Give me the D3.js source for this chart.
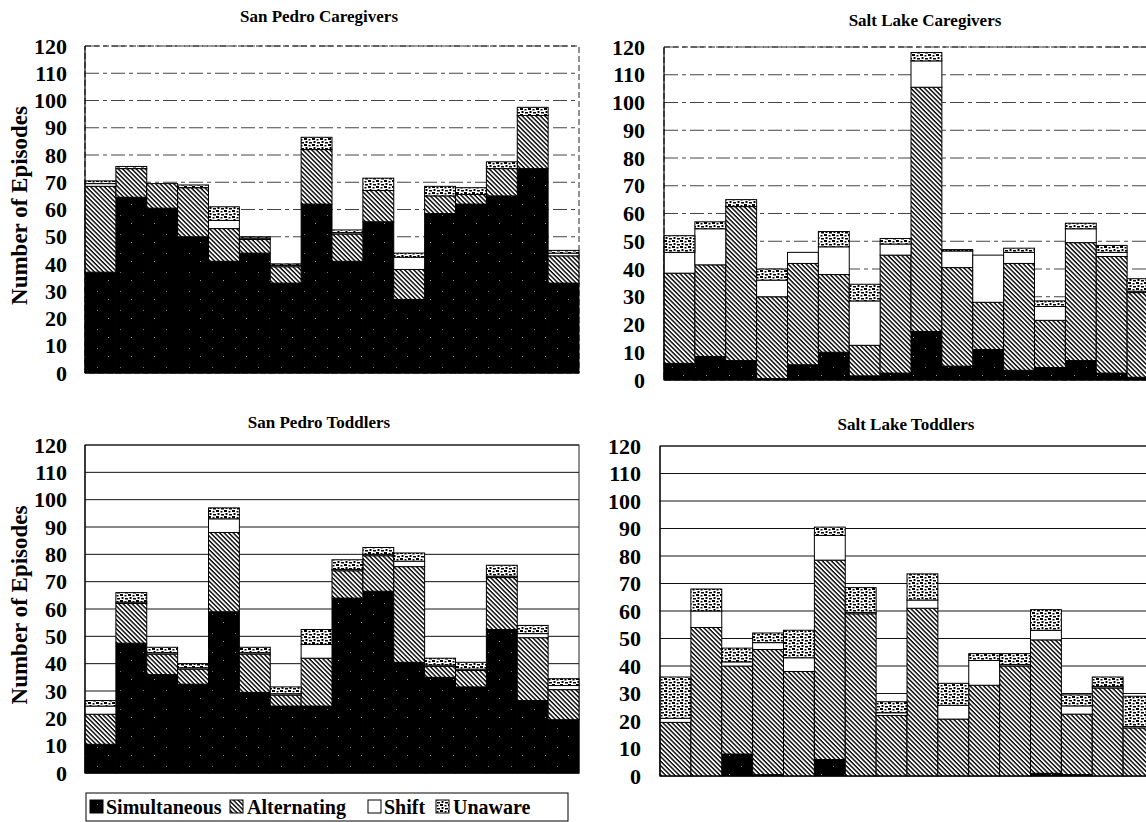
<!DOCTYPE html>
<html>
<head>
<meta charset="utf-8">
<script src="https://cdn.jsdelivr.net/npm/d3@7"></script>
<style>
  html, body { margin: 0; padding: 0; background: #fff; }
  svg { display: block; }
  text { font-family: "Liberation Serif", "Times New Roman", Times, serif; font-weight: bold; fill: #000; }
</style>
</head>
<body>
<div id="chart"></div>
<script>
// participants (16 dyads per group), same for every panel
const participants = ['P1', 'P2', 'P3', 'P4', 'P5', 'P6', 'P7', 'P8',
  'P9', 'P10', 'P11', 'P12', 'P13', 'P14', 'P15', 'P16'];
const yTicks = [0, 10, 20, 30, 40, 50, 60, 70, 80, 90, 100, 110, 120];
const keys = ['simultaneous', 'alternating', 'shift', 'unaware'];
const legendLabels = ['Simultaneous', 'Alternating', 'Shift', 'Unaware'];

// San Pedro Caregivers
const spCareSim = [37, 64.5, 60.5, 50, 41, 44, 33, 62, 41, 55.5, 27, 58.5, 62, 65, 75, 33];
const spCareAlt = [31.5, 10.5, 9, 18, 12, 5, 6, 20, 10, 11.5, 11, 6.5, 3.5, 10, 19.5, 10];
const spCareShift = [1, 0, 0, 0, 3, 0.5, 0.5, 0, 0.5, 0, 4.5, 0, 0, 0, 0, 1];
const spCareUna = [1, 0.8, 0, 1, 5, 0.5, 0.5, 4.5, 1, 4.5, 1.5, 3.5, 2.5, 2.5, 3, 1];

// Salt Lake Caregivers
const slCareSim = [6, 8.5, 7, 0.5, 5.5, 10, 1.5, 2.5, 17.5, 5, 11, 3.5, 4.5, 7, 2.5, 1];
const slCareAlt = [32.5, 33, 55.5, 29.5, 36.5, 28, 11, 42.5, 88, 35.5, 17, 38.5, 17, 42.5, 42, 30.5];
const slCareShift = [7.5, 13, 0, 6, 4, 10, 16, 4, 9.5, 6, 17, 4, 5, 5, 1.5, 0.5];
const slCareUna = [6, 2.5, 2.5, 4, 0, 5.5, 6, 2, 3, 0.5, 0, 1.5, 2, 2, 2.5, 4.5];

// San Pedro Toddlers
const spTodSim = [10.5, 47.5, 36, 32.5, 59, 29.5, 24.5, 24.5, 64, 66.5, 40.5, 35, 31.5, 52.5, 26.5, 19.5];
const spTodAlt = [11, 14.5, 7.5, 5.5, 29, 14, 4, 17.5, 10, 13, 35, 4, 6, 19, 23, 11];
const spTodShift = [3, 0.5, 0.5, 0.5, 5, 0.5, 0.5, 5, 0.5, 0.5, 2, 0.5, 0.5, 0.5, 1.5, 1.5];
const spTodUna = [2, 3.5, 2, 1.5, 4, 2, 2.5, 5.5, 3.5, 2.5, 3, 2.5, 2.5, 4, 3, 2.5];

// Salt Lake Toddlers
const slTodSim = [0, 0, 8, 0.5, 0, 6, 0, 0, 0, 0, 0, 0, 1, 0.5, 0, 0];
const slTodAlt = [19.5, 54, 32, 45.5, 38, 72.5, 59, 22, 61, 20.7, 33, 40, 48.5, 22, 32, 17.5];
const slTodShift = [1.5, 6, 1.5, 2.5, 5, 9, 0.5, 1, 3, 5, 9, 0.5, 3.5, 3, 0.5, 0.5];
const slTodUna = [15, 8, 5, 3.5, 10, 3, 9, 4, 9.5, 8, 2.5, 4, 7.5, 4, 3.5, 11];

const width = 1146, height = 822;
const serif = '"Liberation Serif", "Times New Roman", Times, serif';

const svg = d3.select('#chart').append('svg')
  .attr('width', width)
  .attr('height', height);

// fills: solid black, backslash hatch, white, dotted blobs
const defs = svg.append('defs');

const simPat = defs.append('pattern')
  .attr('id', 'pat-sim').attr('patternUnits', 'userSpaceOnUse')
  .attr('width', 23).attr('height', 19);
simPat.append('rect').attr('width', 23).attr('height', 19).attr('fill', '#000');
simPat.append('rect').attr('x', 5).attr('y', 6).attr('width', 1).attr('height', 1).attr('fill', '#777');
simPat.append('rect').attr('x', 16).attr('y', 14).attr('width', 1).attr('height', 1).attr('fill', '#999');

const altPat = defs.append('pattern')
  .attr('id', 'pat-alt').attr('patternUnits', 'userSpaceOnUse')
  .attr('width', 4).attr('height', 3.2)
  .attr('patternTransform', 'rotate(45)');
altPat.append('rect').attr('width', 4).attr('height', 3.2).attr('fill', '#fff');
altPat.append('rect').attr('width', 4).attr('height', 1.4).attr('fill', '#000');

const unaPat = defs.append('pattern')
  .attr('id', 'pat-una').attr('patternUnits', 'userSpaceOnUse')
  .attr('width', 8).attr('height', 6);
unaPat.append('rect').attr('width', 8).attr('height', 6).attr('fill', '#fff');
[[0, 0, 3, 2], [4.5, 1, 2, 1.5], [1.5, 3, 2, 2], [5, 4, 3, 1.5]].forEach(r => {
  unaPat.append('rect').attr('x', r[0]).attr('y', r[1])
    .attr('width', r[2]).attr('height', r[3]).attr('fill', '#000');
});

const fills = {
  simultaneous: 'url(#pat-sim)',
  alternating: 'url(#pat-alt)',
  shift: '#fff',
  unaware: 'url(#pat-una)'
};

const panels = [
  { title: 'San Pedro Caregivers', series: [spCareSim, spCareAlt, spCareShift, spCareUna],
    x0: 85, x1: 579, yTop: 46, yBottom: 373, titleX: 319, titleY: 22, labelEnd: 67, dashed: true, ylabel: true },
  { title: 'Salt Lake Caregivers', series: [slCareSim, slCareAlt, slCareShift, slCareUna],
    x0: 664, x1: 1158, yTop: 47, yBottom: 380, titleX: 925, titleY: 26, labelEnd: 645, dashed: true, ylabel: false },
  { title: 'San Pedro Toddlers', series: [spTodSim, spTodAlt, spTodShift, spTodUna],
    x0: 85, x1: 579, yTop: 445, yBottom: 773, titleX: 319, titleY: 428, labelEnd: 67, dashed: false, ylabel: true },
  { title: 'Salt Lake Toddlers', series: [slTodSim, slTodAlt, slTodShift, slTodUna],
    x0: 660, x1: 1154, yTop: 446, yBottom: 776, titleX: 906, titleY: 430, labelEnd: 641, dashed: false, ylabel: false }
];

panels.forEach(p => {
  const rows = participants.map((name, i) => {
    const row = { name };
    keys.forEach((k, j) => { row[k] = p.series[j][i]; });
    return row;
  });
  const stacked = d3.stack().keys(keys)(rows);

  const x = d3.scaleBand().domain(participants).range([p.x0, p.x1]).padding(0);
  const y = d3.scaleLinear().domain([0, 120]).range([p.yBottom, p.yTop]);

  const g = svg.append('g');

  // gridlines
  g.append('g').selectAll('line')
    .data(yTicks.filter(t => t > 0))
    .join('line')
    .attr('x1', p.x0).attr('x2', p.x1)
    .attr('y1', d => y(d)).attr('y2', d => y(d))
    .attr('stroke', p.dashed ? '#444' : '#111')
    .attr('stroke-width', 1)
    .attr('stroke-dasharray', p.dashed ? '14,4,4,4' : null);

  // plot frame
  g.append('rect')
    .attr('x', p.x0).attr('y', p.yTop)
    .attr('width', p.x1 - p.x0).attr('height', p.yBottom - p.yTop)
    .attr('fill', 'none')
    .attr('stroke', '#222')
    .attr('stroke-width', 1)
    .attr('stroke-dasharray', p.dashed ? '6,3' : null);

  // stacked bars
  g.append('g').selectAll('g')
    .data(stacked)
    .join('g')
    .attr('fill', d => fills[d.key])
    .selectAll('rect')
    .data(d => d.filter(s => s[1] - s[0] > 0))
    .join('rect')
    .attr('x', d => x(d.data.name))
    .attr('width', x.bandwidth())
    .attr('y', d => y(d[1]))
    .attr('height', d => y(d[0]) - y(d[1]))
    .attr('stroke', '#000')
    .attr('stroke-width', 1);

  // y axis line and baseline
  g.append('line')
    .attr('x1', p.x0).attr('x2', p.x0)
    .attr('y1', p.yTop).attr('y2', p.yBottom)
    .attr('stroke', '#000').attr('stroke-width', 1.2);
  g.append('line')
    .attr('x1', p.x0).attr('x2', p.x1)
    .attr('y1', p.yBottom).attr('y2', p.yBottom)
    .attr('stroke', '#000').attr('stroke-width', 1.2);

  // tick labels
  const axis = g.append('g')
    .attr('transform', 'translate(' + p.labelEnd + ',0)')
    .call(d3.axisLeft(y).tickValues(yTicks).tickSize(0).tickPadding(0));
  axis.select('.domain').remove();
  axis.attr('font-family', serif);
  axis.selectAll('text')
    .style('font-family', serif)
    .style('font-weight', 'bold')
    .style('font-size', '22px')
    .attr('fill', '#000');

  // title
  g.append('text')
    .attr('x', p.titleX).attr('y', p.titleY)
    .attr('text-anchor', 'middle')
    .style('font-size', '17px')
    .text(p.title);

  if (p.ylabel) {
    g.append('text')
      .attr('transform', 'translate(27,' + ((p.yTop + p.yBottom) / 2 - 4) + ') rotate(-90)')
      .attr('text-anchor', 'middle')
      .style('font-size', '23px')
      .text('Number of Episodes');
  }
});

// legend under San Pedro Toddlers
const legend = svg.append('g');
legend.append('rect')
  .attr('x', 86).attr('y', 793)
  .attr('width', 482).attr('height', 28)
  .attr('fill', '#fff').attr('stroke', '#000').attr('stroke-width', 1);

const legendX = [90, 230, 368, 436];
const legendTextX = [106, 247, 384, 453];
keys.forEach((k, i) => {
  legend.append('rect')
    .attr('x', legendX[i]).attr('y', 800)
    .attr('width', 13).attr('height', 13)
    .attr('fill', fills[k]).attr('stroke', '#000').attr('stroke-width', 1);
  legend.append('text')
    .attr('x', legendTextX[i]).attr('y', 814)
    .style('font-size', '20px')
    .text(legendLabels[i]);
});

svg.selectAll('text').style('font-family', serif).style('font-weight', 'bold');
</script>
</body>
</html>
